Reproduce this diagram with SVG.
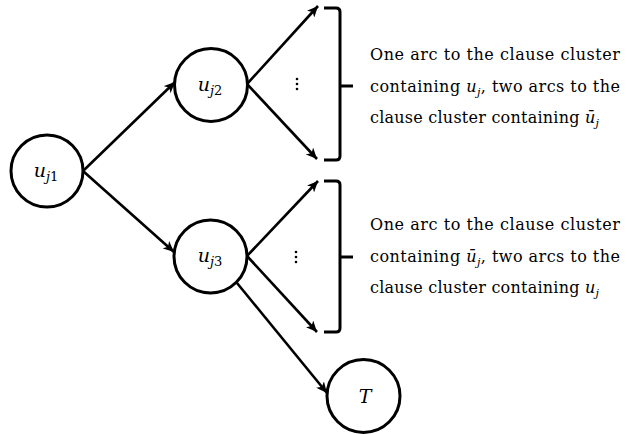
<svg xmlns="http://www.w3.org/2000/svg" width="627" height="434" viewBox="0 0 627 434">
<style>
.node circle{fill:#fff;stroke:#000;stroke-width:3}
.lbl{font-family:'DejaVu Serif',serif;font-size:19px;font-style:italic;text-anchor:middle;fill:#000}
.sub{font-size:13px}
.up{font-style:normal}
.edge{stroke:#000;stroke-width:2.6;fill:none;marker-end:url(#ah)}
.brace{stroke:#000;stroke-width:3;fill:none;stroke-linecap:butt}
.txt{font-family:'DejaVu Serif',serif;font-size:16px;fill:#000}
.m{font-style:italic}
.ms{font-style:italic;font-size:11px}
.dots{fill:#000}
</style>
<defs>
<marker id="ah" markerUnits="userSpaceOnUse" markerWidth="12" markerHeight="10" refX="11" refY="5" orient="auto">
<path d="M0,0 L11,5 L0,10 L3,5 z" fill="#000"/>
</marker>
</defs>
<g id="connectors">
<line class="edge" x1="83" y1="171" x2="175" y2="82"/>
<line class="edge" x1="83" y1="171" x2="174" y2="252"/>
<line class="edge" x1="247" y1="84" x2="318" y2="6"/>
<line class="edge" x1="247" y1="84" x2="317" y2="159"/>
<line class="edge" x1="247" y1="256" x2="318" y2="181"/>
<line class="edge" x1="247" y1="256" x2="317" y2="332"/>
<line class="edge" x1="237" y1="283" x2="327" y2="393"/>
</g>
<g id="n_uj1" class="node">
<circle cx="47" cy="171" r="36"/>
<text class="lbl" x="46" y="177">u<tspan class="sub" dy="4">j</tspan><tspan class="sub up">1</tspan></text>
</g>
<g id="n_uj2" class="node">
<circle cx="211" cy="85" r="36.5"/>
<text class="lbl" x="210" y="91">u<tspan class="sub" dy="4">j</tspan><tspan class="sub up">2</tspan></text>
</g>
<g id="n_uj3" class="node">
<circle cx="210.5" cy="256.5" r="36.5"/>
<text class="lbl" x="210" y="262">u<tspan class="sub" dy="4">j</tspan><tspan class="sub up">3</tspan></text>
</g>
<g id="n_T" class="node">
<circle cx="363.5" cy="396" r="36.5"/>
<text class="lbl" x="365" y="403">T</text>
</g>
<g id="dots1" class="dots">
<circle cx="297" cy="79" r="1.3"/><circle cx="297" cy="84" r="1.3"/><circle cx="297" cy="89" r="1.3"/>
</g>
<g id="dots2" class="dots">
<circle cx="296" cy="252" r="1.3"/><circle cx="296" cy="257" r="1.3"/><circle cx="296" cy="262" r="1.3"/>
</g>
<g id="brace1">
<path class="brace" d="M324,8 H336 Q340,8 340,12 V156 Q340,160 336,160 H324"/>
<path class="brace" d="M340,86 H353"/>
</g>
<g id="brace2">
<path class="brace" d="M324,181 H336 Q340,181 340,185 V328 Q340,332 336,332 H324"/>
<path class="brace" d="M340,257 H353"/>
</g>
<g id="label1">
<text class="txt" x="370" y="60" textLength="250" lengthAdjust="spacing">One arc to the clause cluster</text>
<text class="txt" x="370" y="92" textLength="250" lengthAdjust="spacing">containing <tspan class="m">u</tspan><tspan class="ms" dy="4">j</tspan><tspan dy="-4">, two arcs to the</tspan></text>
<text class="txt" x="370" y="123" textLength="229" lengthAdjust="spacing">clause cluster containing <tspan class="m">ū</tspan><tspan class="ms" dy="4">j</tspan></text>
</g>
<g id="label2">
<text class="txt" x="370" y="230" textLength="250" lengthAdjust="spacing">One arc to the clause cluster</text>
<text class="txt" x="370" y="262" textLength="250" lengthAdjust="spacing">containing <tspan class="m">ū</tspan><tspan class="ms" dy="4">j</tspan><tspan dy="-4">, two arcs to the</tspan></text>
<text class="txt" x="370" y="293" textLength="229" lengthAdjust="spacing">clause cluster containing <tspan class="m">u</tspan><tspan class="ms" dy="4">j</tspan></text>
</g>
</svg>
